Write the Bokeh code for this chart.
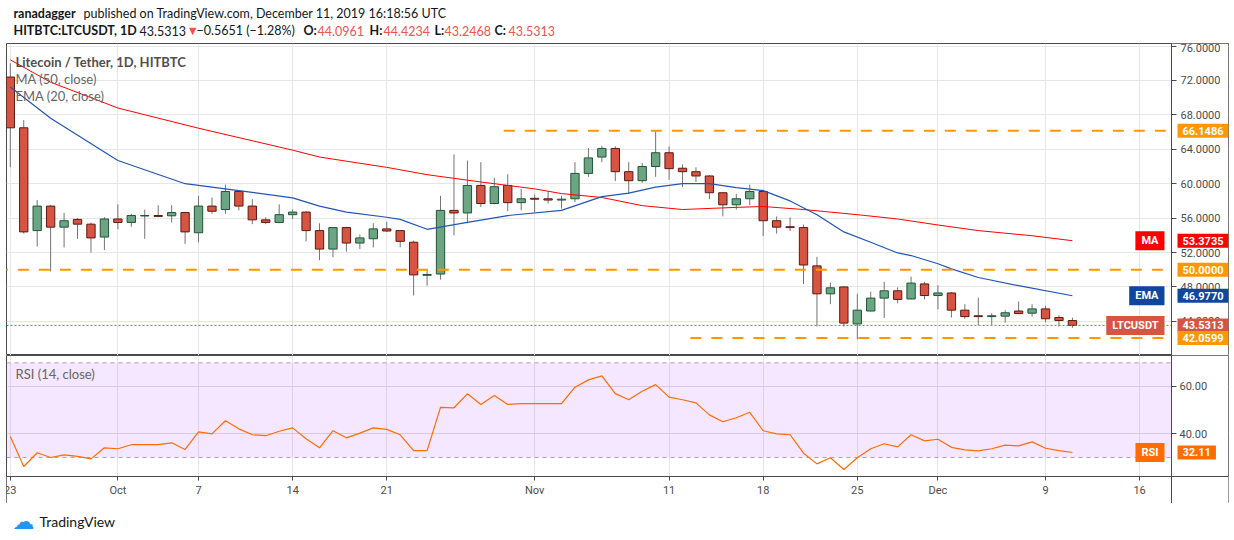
import pandas as pd
from bokeh.plotting import figure
from bokeh.models import (ColumnDataSource, Range1d, FixedTicker, PrintfTickFormatter,
                          Label, BoxAnnotation)
from bokeh.layouts import column
from bokeh.embed import file_html
from bokeh.resources import INLINE

# ---------------- data ----------------
dates = pd.date_range("2019-09-23", "2019-12-11", freq="D")
opens = [72.4, 66.5, 54.55, 57.4, 54.95, 55.85, 55.3, 53.8, 55.9, 55.5,
         56.25, 56.3, 56.27, 56.65, 54.3, 57.4, 57.0, 59.1, 57.4, 55.8,
         55.5, 56.4, 56.7, 54.55, 52.4, 54.9, 53.1, 53.6, 54.75, 54.55,
         53.2, 49.35, 49.5, 56.9, 56.6, 59.8, 57.7, 59.8, 57.8, 58.3,
         58.25, 58.1, 58.25, 61.2, 63.1, 64.1, 61.4, 60.35, 62.0, 63.6,
         61.8, 61.4, 60.9, 58.95, 57.55, 58.25, 59.1, 55.7, 55.0, 54.9,
         50.45, 47.2, 48.0, 43.7, 45.2, 46.7, 47.55, 46.6, 48.35, 47.0,
         47.3, 45.3, 44.65, 44.55, 44.6, 45.2, 44.95, 45.45, 44.45, 44.0961]
highs = [74.0, 67.4, 58.1, 57.5, 56.6, 56.0, 55.5, 56.1, 57.6, 56.5,
         57.0, 57.5, 57.5, 56.7, 58.6, 58.4, 59.9, 59.2, 58.2, 56.1,
         57.6, 57.0, 56.8, 55.4, 54.9, 55.0, 54.1, 55.4, 55.6, 54.6,
         53.4, 50.1, 58.6, 63.4, 62.7, 62.5, 60.7, 61.1, 59.4, 58.75,
         59.1, 58.6, 62.5, 64.15, 64.4, 64.35, 62.5, 62.4, 66.2, 64.35,
         62.25, 61.9, 61.0, 59.0, 58.8, 59.9, 59.3, 56.2, 56.1, 55.25,
         51.5, 48.5, 48.1, 47.2, 47.45, 48.6, 47.95, 49.2, 48.6, 48.2,
         47.4, 46.0, 46.75, 44.95, 45.3, 46.3, 46.0, 45.8, 44.7, 44.4234]
lows = [61.9, 54.2, 52.7, 49.8, 52.6, 53.6, 52.0, 52.3, 54.7, 55.0,
        53.6, 56.1, 55.5, 53.0, 53.2, 56.5, 56.5, 56.9, 55.3, 55.3,
        55.4, 55.9, 53.3, 51.1, 51.45, 52.1, 52.4, 52.6, 54.4, 52.6,
        47.0, 48.15, 48.85, 54.0, 55.4, 57.3, 57.6, 56.8, 56.9, 56.7,
        57.7, 57.1, 57.85, 60.8, 62.5, 60.3, 58.8, 60.1, 60.8, 60.45,
        59.6, 60.2, 58.2, 56.2, 57.0, 57.5, 53.9, 54.2, 54.5, 48.35,
        43.4, 46.0, 43.4, 41.9, 45.15, 44.4, 46.1, 46.55, 46.55, 45.4,
        44.45, 44.3, 43.55, 43.55, 43.85, 44.85, 44.55, 43.9, 43.4, 43.2468]
closes = [66.5, 54.4, 57.4, 54.95, 55.7, 55.3, 53.7, 55.9, 55.5, 56.3,
          56.3, 56.2, 56.65, 54.4, 57.4, 56.8, 59.1, 57.4, 55.8, 55.5,
          56.4, 56.7, 54.55, 52.4, 54.9, 53.1, 53.7, 54.75, 54.5, 53.3,
          49.4, 49.45, 56.9, 56.6, 59.8, 57.7, 59.65, 57.8, 58.25, 58.2,
          58.1, 58.2, 61.2, 63.0, 64.1, 61.4, 60.35, 62.0, 63.6, 61.75,
          61.4, 60.9, 58.95, 57.55, 58.25, 59.1, 55.7, 54.95, 54.9, 50.55,
          47.2, 47.9, 43.8, 45.3, 46.7, 47.55, 46.55, 48.45, 47.0, 47.3,
          45.3, 44.55, 44.55, 44.65, 45.0, 44.9, 45.45, 44.3, 44.0964, 43.5313]
rsi = [38.9, 26.2, 32.0, 30.0, 31.1, 30.5, 29.4, 34.1, 33.7, 35.4,
       35.4, 35.4, 36.2, 33.4, 40.8, 40.0, 45.5, 42.1, 39.6, 39.2,
       41.1, 42.5, 37.9, 34.1, 41.3, 38.3, 40.3, 42.5, 41.9, 39.6,
       32.9, 32.9, 51.2, 51.0, 56.9, 52.4, 56.2, 52.4, 52.8, 52.8,
       52.8, 52.8, 59.7, 62.8, 64.5, 57.0, 54.4, 58.0, 60.8, 55.5,
       54.4, 53.1, 48.0, 45.1, 46.8, 49.1, 41.3, 40.0, 39.6, 31.8,
       27.3, 29.9, 24.9, 29.9, 33.7, 35.8, 34.5, 39.6, 37.0, 37.7,
       34.3, 33.2, 32.8, 33.7, 35.2, 34.9, 36.6, 33.9, 32.9, 32.11]

ma_dates = ["2019-09-23", "2019-09-26", "2019-10-01", "2019-10-07", "2019-10-14", "2019-10-16",
            "2019-10-21", "2019-10-24", "2019-10-28", "2019-11-01", "2019-11-03", "2019-11-06",
            "2019-11-09", "2019-11-12", "2019-11-16", "2019-11-18", "2019-11-21", "2019-11-25",
            "2019-11-28", "2019-12-01", "2019-12-04", "2019-12-08", "2019-12-11"]
ma_vals = [74.4, 71.8, 68.8, 66.45, 63.9, 63.1, 61.9, 61.05, 60.2, 59.4, 58.85, 58.4,
           57.45, 57.0, 57.25, 57.35, 57.0, 56.4, 55.9, 55.2, 54.55, 53.95, 53.3735]
ema_dates = ["2019-09-23", "2019-09-26", "2019-10-01", "2019-10-06", "2019-10-10", "2019-10-14",
             "2019-10-16", "2019-10-18", "2019-10-21", "2019-10-22", "2019-10-24", "2019-10-27",
             "2019-10-30", "2019-11-03", "2019-11-06", "2019-11-08", "2019-11-10", "2019-11-12",
             "2019-11-14", "2019-11-16", "2019-11-18", "2019-11-20", "2019-11-22", "2019-11-24",
             "2019-11-26", "2019-11-28", "2019-11-29", "2019-12-01", "2019-12-02", "2019-12-04",
             "2019-12-07", "2019-12-11"]
ema_vals = [71.25, 67.6, 62.7, 60.0, 59.2, 58.35, 57.4, 56.7, 56.1, 55.85, 54.7, 55.5,
            56.3, 56.9, 58.5, 58.9, 59.6, 60.0, 60.0, 59.55, 59.2, 58.0, 56.4, 54.4,
            53.2, 51.95, 51.65, 50.7, 50.1, 49.1, 48.15, 46.977]

price_ticks = [44, 48, 52, 56, 60, 64, 68, 72, 76]
rsi_ticks = [40, 60]
date_ticks = ["2019-09-23", "2019-10-01", "2019-10-07", "2019-10-14", "2019-10-21", "2019-11-01",
              "2019-11-11", "2019-11-18", "2019-11-25", "2019-12-01", "2019-12-09", "2019-12-16"]
date_labels = ["23", "Oct", "7", "14", "21", "Nov", "11", "18", "25", "Dec", "9", "16"]

levels = [66.1486, 50.0, 42.0599]
level_starts = ["2019-10-29 17:00", "2019-09-22", "2019-11-12 14:00"]
last_close = 43.5313
ma_last = 53.3735
ema_last = 46.9770
rsi_last = 32.11
rsi_bands = [70, 30]

# ---------------- helpers ----------------
DAY = 86400000.0
def ms(s):
    return pd.Timestamp(s).value / 1e6

W = 1234
FW = 1222                       # frame width of the two panes (x 6 .. 1228)
t0 = ms(dates[0])
xr = Range1d(t0 - 0.283 * DAY, t0 + 90.61 * DAY)
x_axis = t0 + 86.37 * DAY       # where the price scale sits
tick_ms = [ms(d) for d in date_ticks]

UP_FILL, UP_LINE = "#6ba583", "#225437"
DN_FILL, DN_LINE = "#d75442", "#5b1a13"
DARK = "#131722"
FRAME = "#4a4a4a"
GRID = "#e6e6e6"
FONT = "Lato"

def style_axis(ax):
    ax.major_label_text_font = "Roboto"
    ax.major_label_text_font_size = "11px"
    ax.major_label_text_color = "#4c4c4c"
    ax.axis_line_color = FRAME
    ax.major_tick_line_color = FRAME
    ax.major_tick_out = 5
    ax.major_tick_in = 0
    ax.minor_tick_line_color = None
    ax.minor_tick_out = 0
    ax.minor_tick_in = 0

def lab(p, x, y, text, size="13px", color=DARK, style="normal", font=FONT,
        align="left", xu="screen", yu="screen", bg=None, pad=(5, 3), xoff=0):
    kw = dict(x=x, y=y, x_units=xu, y_units=yu, text=text, text_font=font,
              text_font_size=size, text_color=color, text_font_style=style,
              text_align=align, text_baseline="middle", x_offset=xoff)
    if bg is not None:
        kw.update(background_fill_color=bg, padding=pad)
    p.add_layout(Label(**kw))

def tag(p, yv, text, colr, name=None):
    lab(p, x_axis, yv, text, size="11px", color="white", style="bold", font="Roboto",
        xu="data", yu="data", bg=colr, pad=(5, 3), xoff=6)
    if name:
        lab(p, x_axis, yv, name, size="11px", color="white", style="bold", font="Roboto",
            align="right", xu="data", yu="data", bg=colr, pad=(6, 3), xoff=-7)

def blank(h):
    f = figure(frame_width=W, frame_height=h, x_range=Range1d(0, 1), y_range=Range1d(0, 1),
               x_axis_location=None, y_axis_location=None, toolbar_location=None,
               output_backend="svg", title=None, min_border=0, outline_line_color=None,
               background_fill_color="white", border_fill_color="white")
    f.grid.visible = False
    return f

# ---------------- header ----------------
HDR_H = 43
HSZ = "12.5px"
hdr = blank(HDR_H)
RED = "#ef5350"
lab(hdr, 7, HDR_H - 13, "ranadagger", style="bold", size=HSZ)
lab(hdr, 77, HDR_H - 13, "published on TradingView.com, December 11, 2019 16:18:56 UTC", size=HSZ)
line2 = [("HITBTC:LTCUSDT, 1D", 7, "bold", DARK), ("43.5313", 133, "normal", DARK),
         ("\u25bc", 180, "normal", RED), ("\u22120.5651 (\u22121.28%)", 190, "normal", DARK),
         ("O:", 297, "bold", DARK), ("44.0961", 311, "normal", RED),
         ("H:", 363, "bold", DARK), ("44.4234", 377, "normal", RED),
         ("L:", 428, "bold", DARK), ("43.2468", 438, "normal", RED),
         ("C:", 488, "bold", DARK), ("43.5313", 502, "normal", RED)]
for t, xx, st, col in line2:
    lab(hdr, xx, HDR_H - 30, t, style=st, color=col, size=HSZ)

# ---------------- main pane ----------------
src = ColumnDataSource(dict(
    date=[ms(d) for d in dates], open=opens, high=highs, low=lows, close=closes,
    top=[max(o, c) for o, c in zip(opens, closes)],
    bot=[min(o, c) for o, c in zip(opens, closes)],
    fill=[UP_FILL if c >= o else DN_FILL for o, c in zip(opens, closes)],
    edge=[UP_LINE if c >= o else DN_LINE for o, c in zip(opens, closes)],
))

MAIN_H = 312
p1 = figure(frame_width=FW, frame_height=MAIN_H, x_range=xr, y_range=Range1d(40.03, 76.3),
            x_axis_location=None, y_axis_location="right", toolbar_location=None,
            output_backend="svg", title=None, min_border_top=0, min_border_bottom=0,
            min_border_left=6, min_border_right=6, outline_line_color=FRAME,
            background_fill_color="white", border_fill_color="white")
p1.xgrid.ticker = FixedTicker(ticks=tick_ms)
p1.ygrid.ticker = FixedTicker(ticks=price_ticks)
p1.xgrid.grid_line_color = GRID
p1.ygrid.grid_line_color = GRID
p1.add_layout(BoxAnnotation(left=x_axis, fill_color="white", fill_alpha=1,
                            line_color=None, level="underlay"))
ya = p1.yaxis[0]
style_axis(ya)
ya.fixed_location = x_axis
ya.ticker = FixedTicker(ticks=price_ticks)
ya.formatter = PrintfTickFormatter(format="%.4f")
ya.major_label_standoff = 4

p1.segment(x0="date", y0="low", x1="date", y1="high", source=src, line_color="#737375", line_width=1)
p1.vbar(x="date", width=0.62 * DAY, top="top", bottom="bot", source=src,
        fill_color="fill", line_color="edge", line_width=1)
p1.line([ms(d) for d in ma_dates], ma_vals, line_color="#ff0000", line_width=1)
p1.line([ms(d) for d in ema_dates], ema_vals, line_color="#2355b3", line_width=1.2)
p1.segment(x0=[xr.start], x1=[x_axis], y0=[last_close], y1=[last_close],
           line_color=DN_FILL, line_dash="2 2", line_width=1)
p1.segment(x0=[ms(s) for s in level_starts], x1=[x_axis] * len(levels), y0=levels, y1=levels,
           line_color="#ff9800", line_width=2, line_dash="11 10")

def my(yref):
    return HDR_H + MAIN_H - yref
lab(p1, 9, my(61), "Litecoin / Tether, 1D, HITBTC", color="#4f4f4f", style="bold")
lab(p1, 9, my(78), "MA (50, close)", color="#666666")
lab(p1, 9, my(95), "EMA (20, close)", color="#666666")

tag(p1, levels[0], "66.1486", "#ff9800")
tag(p1, ma_last, "53.3735", "#ff0000", "MA")
tag(p1, levels[1], "50.0000", "#ff9800")
tag(p1, ema_last, "46.9770", "#0f47a0", "EMA")
tag(p1, last_close, "43.5313", DN_FILL, "LTCUSDT")
tag(p1, levels[2], "42.0599", "#ff9800")

# ---------------- RSI pane (frame also holds the time scale strip) ----------------
RSI_H = 148
p2 = figure(frame_width=FW, frame_height=RSI_H, x_range=xr, y_range=Range1d(10.55, 73.1),
            x_axis_location="below", y_axis_location="right", toolbar_location=None,
            output_backend="svg", title=None, min_border_top=0, min_border_bottom=0,
            min_border_left=6, min_border_right=6, outline_line_color=FRAME,
            background_fill_color="white", border_fill_color="white")
p2.xgrid.ticker = FixedTicker(ticks=tick_ms)
p2.ygrid.ticker = FixedTicker(ticks=rsi_ticks)
p2.xgrid.grid_line_color = GRID
p2.ygrid.grid_line_color = "#dedede"
p2.add_layout(BoxAnnotation(bottom=30, top=70, right=x_axis, fill_color="#9915ff",
                            fill_alpha=0.1, line_color=None, level="underlay"))
p2.add_layout(BoxAnnotation(left=x_axis, fill_color="white", fill_alpha=1,
                            line_color=None, level="underlay"))
p2.add_layout(BoxAnnotation(top=22.0, fill_color="white", fill_alpha=1,
                            line_color=None, level="underlay"))
p2.segment(x0=[xr.start] * 2, x1=[x_axis] * 2, y0=rsi_bands, y1=rsi_bands,
           line_color="#a9a2b2", line_dash="4 4", line_width=1)
p2.line([ms(d) for d in dates], rsi, line_color="#ff6d00", line_width=1.2)

ra = p2.yaxis[0]
style_axis(ra)
ra.fixed_location = x_axis
ra.ticker = FixedTicker(ticks=rsi_ticks)
ra.formatter = PrintfTickFormatter(format="%.2f")
ra.major_label_standoff = 3

xa = p2.xaxis[0]
style_axis(xa)
xa.major_tick_out = 4
xa.fixed_location = 22.0
xa.ticker = FixedTicker(ticks=tick_ms)
xa.major_label_overrides = {t: l for t, l in zip(tick_ms, date_labels)}
xa.major_label_standoff = 4

def ry(yref):
    return HDR_H + MAIN_H + RSI_H - yref
lab(p2, 9, ry(373), "RSI (14, close)", color="#666666")
tag(p2, rsi_last, "32.11", "#ff6d00", "RSI")

# ---------------- footer ----------------
FT_H = 540 - HDR_H - MAIN_H - RSI_H
ft = blank(FT_H)
lab(ft, 6, FT_H - 18, "\u2601", size="22px", color="#2196f3", font="DejaVu Sans")
lab(ft, 33, FT_H - 18, "TradingView", size="14px", color=DARK)

layout = column(hdr, p1, p2, ft, spacing=0)
open("out.html", "w").write(file_html(layout, INLINE))
